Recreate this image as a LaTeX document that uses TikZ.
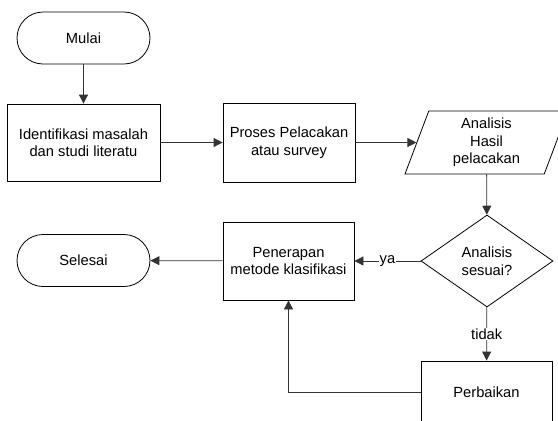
\documentclass[tikz,border=0pt]{standalone}
\usepackage{fontspec}
\setmainfont{Liberation Sans}
\usetikzlibrary{shapes.geometric,arrows.meta}
\begin{document}
\begin{tikzpicture}[x=1pt,y=-1pt,
    font=\fontsize{14.7}{17.5}\selectfont,
    every node/.style={line width=0.8pt},
    terminal/.style={draw,rounded corners=26pt,minimum width=133pt,minimum height=52pt,align=center},
    prosesbox/.style={draw,minimum width=132pt,minimum height=78pt,align=center},
    databox/.style={draw,trapezium,trapezium left angle=64,trapezium right angle=116,
      trapezium stretches body,minimum width=163pt,minimum height=63pt,inner sep=0pt,align=center},
    keputusan/.style={draw,diamond,aspect=1.43,minimum width=132pt,minimum height=92pt,inner sep=0pt,align=center},
    alur/.style={-{Triangle[length=9pt,width=9pt]},line width=0.8pt,black!80},
    ket/.style={fill=white,text=black,inner sep=1pt}]
    \useasboundingbox (0,0) rectangle (558,421);
    \clip (0,0) rectangle (558,421);
        \node[terminal] (mulai) at (83.5,38) {Mulai};
        \node[prosesbox,minimum width=153pt,minimum height=77pt] (identifikasi) at (83.5,142.5) {Identifikasi masalah\\dan studi literatu};
        \node[prosesbox,minimum height=79pt] (pelacakan) at (289,142.5) {Proses Pelacakan\\atau survey};
        \node[databox] (hasil) at (486.5,142.5) {Analisis\\Hasil\\pelacakan};
        \node[keputusan] (sesuai) at (487,261) {Analisis\\sesuai?};
        \node[prosesbox,minimum width=131pt] (penerapan) at (288.5,261) {Penerapan\\metode klasifikasi};
        \node[terminal] (selesai) at (83.5,260.5) {Selesai};
        \node[prosesbox,minimum width=131pt,minimum height=62pt] (perbaikan) at (486.5,392) {Perbaikan};
        \draw[alur] (mulai) -- (identifikasi);
        \draw[alur] (identifikasi) -- (pelacakan);
        \draw[alur] (pelacakan) -- (hasil);
        \draw[alur] (hasil) -- (sesuai);
        \draw[alur] (sesuai) -- node[ket]{ya} (penerapan);
        \draw[alur] (sesuai) -- node[ket]{tidak} (perbaikan);
        \draw[alur] (perbaikan.west) -| (penerapan.south);
        \draw[alur] (penerapan) -- (selesai);
      \end{tikzpicture}
\end{document}
